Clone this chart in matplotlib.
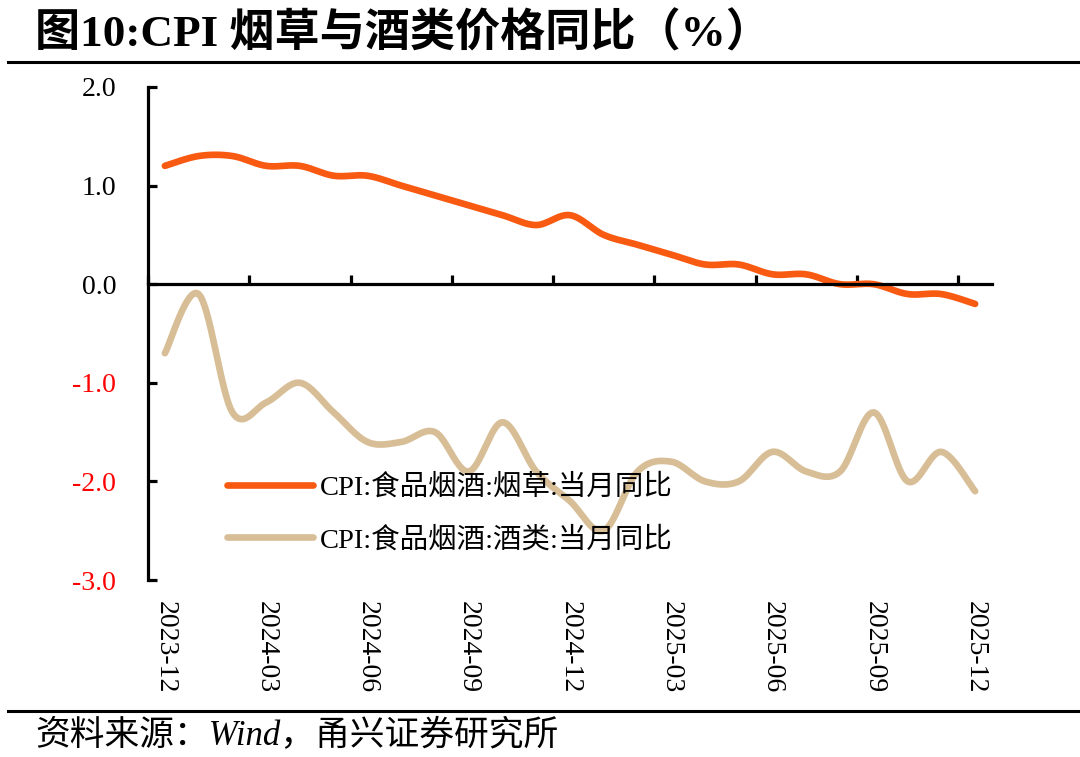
import numpy as np
import matplotlib
matplotlib.use("Agg")
import matplotlib.pyplot as plt
from matplotlib.lines import Line2D

plt.rcParams['font.family'] = ['Liberation Serif', 'Noto Sans CJK SC', 'DejaVu Sans']
plt.rcParams['axes.unicode_minus'] = False

# monthly data, 2023-12 .. 2025-12
months = ['2023-12', '2024-01', '2024-02', '2024-03', '2024-04', '2024-05', '2024-06',
          '2024-07', '2024-08', '2024-09', '2024-10', '2024-11', '2024-12',
          '2025-01', '2025-02', '2025-03', '2025-04', '2025-05', '2025-06',
          '2025-07', '2025-08', '2025-09', '2025-10', '2025-11', '2025-12']
tobacco = [1.2, 1.3, 1.3, 1.2, 1.2, 1.1, 1.1, 1.0, 0.9, 0.8, 0.7, 0.6, 0.7,
           0.5, 0.4, 0.3, 0.2, 0.2, 0.1, 0.1, 0.0, 0.0, -0.1, -0.1, -0.2]
liquor = [-0.7, -0.1, -1.3, -1.2, -1.0, -1.3, -1.6, -1.6, -1.5, -1.9, -1.4, -1.9, -2.2,
          -2.5, -1.9, -1.8, -2.0, -2.0, -1.7, -1.9, -1.9, -1.3, -2.0, -1.7, -2.1]
names = ['CPI:食品烟酒:烟草:当月同比', 'CPI:食品烟酒:酒类:当月同比']
colors = ['#F85A12', '#D8BE96']
yticks = [2.0, 1.0, 0.0, -1.0, -2.0, -3.0]


def smooth(x, y, n=16):
    # catmull-rom curve through the points, like the "smoothed line" option
    x = np.asarray(x, float)
    y = np.asarray(y, float)
    px = np.concatenate([[x[0]], x, [x[-1]]])
    py = np.concatenate([[y[0]], y, [y[-1]]])
    xs, ys = [], []
    t = np.linspace(0, 1, n, endpoint=False)
    for i in range(1, len(px) - 2):
        for arr, out in ((px, xs), (py, ys)):
            p0, p1, p2, p3 = arr[i - 1], arr[i], arr[i + 1], arr[i + 2]
            out.extend(0.5 * (2 * p1 + (-p0 + p2) * t + (2 * p0 - 5 * p1 + 4 * p2 - p3) * t ** 2
                              + (-p0 + 3 * p1 - 3 * p2 + p3) * t ** 3))
    xs.append(x[-1])
    ys.append(y[-1])
    return np.array(xs), np.array(ys)


W, H = 1080, 757
fig = plt.figure(figsize=(W / 100, H / 100), dpi=100)
ax = fig.add_axes([148 / W, 1 - 580 / H, (992 - 148) / W, (580 - 87) / H])

idx = np.arange(len(months))
for vals, name, c in zip([tobacco, liquor], names, colors):
    sx, sy = smooth(idx, vals)
    ax.plot(sx, sy, color=c, lw=4.8, solid_capstyle='round', label=name)

ax.set_xlim(-0.5, len(months) - 0.5)
ax.set_ylim(-3, 2)
for s in ['top', 'right']:
    ax.spines[s].set_visible(False)
ax.spines['bottom'].set_position(('data', 0))
ax.spines['bottom'].set_linewidth(2.3)
ax.spines['left'].set_linewidth(2.3)

ax.set_xticks(np.arange(-0.5, len(months), 3))
ax.set_xticklabels([])
ax.tick_params(axis='x', direction='in', length=6.5, width=2.3)

ax.set_yticks(yticks)
ax.set_yticklabels([f'{v:.1f}' for v in yticks], fontsize=20)
ax.tick_params(axis='y', direction='in', length=6.5, width=2.3, pad=23)
for lab, v in zip(ax.get_yticklabels(), yticks):
    lab.set_color('#FF0000' if v < 0 else 'black')

sec = ax.secondary_xaxis(0.0)
sec.spines['bottom'].set_visible(False)
sec.set_xticks(idx[::3])
sec.set_xticklabels(months[::3], fontsize=20)
sec.tick_params(length=0, pad=15, labelrotation=270)

ax.legend(loc='center left', bbox_to_anchor=(0.094, 0.134), frameon=False,
          prop={'size': 20.5}, handlelength=3.0, handletextpad=0.25,
          labelspacing=0.9, borderpad=0, borderaxespad=0)

fig.text(35 / W, 1 - 34 / H, '图10:CPI 烟草与酒类价格同比（%）', fontsize=32.5,
         fontweight='bold', va='center', ha='left')
fig.add_artist(Line2D([8 / W, 1], [1 - 62 / H] * 2, transform=fig.transFigure,
                      color='black', lw=2.2))
fig.add_artist(Line2D([8 / W, 1], [1 - 711 / H] * 2, transform=fig.transFigure,
                      color='black', lw=2.2))
fig.text(35 / W, 1 - 737 / H, '资料来源：Wind，甬兴证券研究所', fontsize=25,
         style='italic', va='center', ha='left')

fig.savefig('out.png', dpi=100)
